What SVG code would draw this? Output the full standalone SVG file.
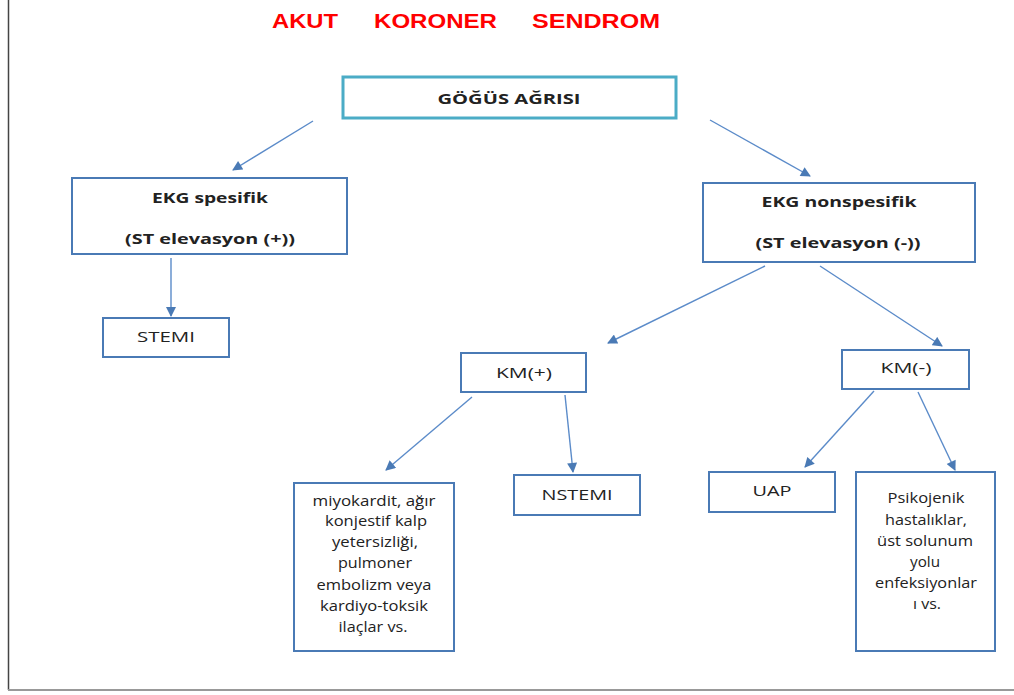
<svg xmlns="http://www.w3.org/2000/svg" width="1014" height="695" viewBox="0 0 1014 695">
<style>
.t{font-family:"Open Sans","Liberation Sans",sans-serif;fill:#222;text-anchor:middle}
.b{font-weight:bold;font-size:15px}
.r{font-size:15px}
.box{fill:#fff;stroke:#4a7ab5;stroke-width:2}
.title{font-family:"Liberation Sans",sans-serif;font-weight:bold;font-size:21px;fill:#ff0000}
.c{stroke:#5b8bc9;stroke-width:1.4;fill:none;marker-end:url(#ah)}
</style>
<defs>
<marker id="ah" viewBox="0 0 10 10" refX="9" refY="5" markerWidth="11" markerHeight="10" markerUnits="userSpaceOnUse" orient="auto">
<path d="M0,0 L10,5 L0,10 z" fill="#4a7ab5"/>
</marker>
</defs>
<rect width="1014" height="695" fill="#fff"/>
<line x1="8.5" y1="0" x2="8.5" y2="690" stroke="#444" stroke-width="1.5"/>
<line x1="8" y1="690" x2="1014" y2="690" stroke="#999" stroke-width="2"/>
<g id="title">
<text class="title" x="272" y="28" textLength="66" lengthAdjust="spacingAndGlyphs">AKUT</text>
<text class="title" x="374" y="28" textLength="123" lengthAdjust="spacingAndGlyphs">KORONER</text>
<text class="title" x="532" y="28" textLength="128" lengthAdjust="spacingAndGlyphs">SENDROM</text>
</g>
<g id="connectors">
<line class="c" x1="313" y1="121" x2="233" y2="170"/>
<line class="c" x1="710" y1="120" x2="810" y2="176"/>
<line class="c" x1="171" y1="258" x2="171" y2="316"/>
<line class="c" x1="765" y1="266" x2="608" y2="343"/>
<line class="c" x1="820" y1="266" x2="942" y2="346"/>
<line class="c" x1="472" y1="397" x2="386" y2="470"/>
<line class="c" x1="565" y1="395" x2="573" y2="472"/>
<line class="c" x1="874" y1="391" x2="805" y2="467"/>
<line class="c" x1="918" y1="392" x2="955" y2="470"/>
</g>
<g id="gogus">
<rect x="343" y="77" width="333" height="41" fill="#fff" stroke="#4bacc6" stroke-width="3"/>
<text class="t b" x="509" y="104" textLength="143" lengthAdjust="spacingAndGlyphs">GÖĞÜS AĞRISI</text>
</g>
<g id="ekg-spesifik">
<rect class="box" x="72" y="178" width="275" height="76"/>
<text class="t b" x="210" y="203" textLength="116" lengthAdjust="spacingAndGlyphs">EKG spesifik</text>
<text class="t b" x="210" y="244" textLength="170" lengthAdjust="spacingAndGlyphs">(ST elevasyon (+))</text>
</g>
<g id="stemi">
<rect class="box" x="103" y="318" width="126" height="39"/>
<text class="t r" x="166" y="342" textLength="58" lengthAdjust="spacingAndGlyphs">STEMI</text>
</g>
<g id="ekg-nonspesifik">
<rect class="box" x="703" y="183" width="272" height="79"/>
<text class="t b" x="839" y="207" textLength="155" lengthAdjust="spacingAndGlyphs">EKG nonspesifik</text>
<text class="t b" x="838" y="248" textLength="165" lengthAdjust="spacingAndGlyphs">(ST elevasyon (-))</text>
</g>
<g id="km-plus">
<rect class="box" x="461" y="353" width="125" height="39"/>
<text class="t r" x="524" y="378" textLength="56" lengthAdjust="spacingAndGlyphs">KM(+)</text>
</g>
<g id="km-minus">
<rect class="box" x="842" y="350" width="127" height="39"/>
<text class="t r" x="906" y="373" textLength="51" lengthAdjust="spacingAndGlyphs">KM(-)</text>
</g>
<g id="miyokardit">
<rect class="box" x="294" y="483" width="160" height="168"/>
<text class="t r" x="374" y="506" textLength="123" lengthAdjust="spacingAndGlyphs">miyokardit, ağır</text>
<text class="t r" x="376" y="526" textLength="102" lengthAdjust="spacingAndGlyphs">konjestif kalp</text>
<text class="t r" x="375" y="547" textLength="86" lengthAdjust="spacingAndGlyphs">yetersizliği,</text>
<text class="t r" x="375" y="568" textLength="74" lengthAdjust="spacingAndGlyphs">pulmoner</text>
<text class="t r" x="374" y="590" textLength="115" lengthAdjust="spacingAndGlyphs">embolizm veya</text>
<text class="t r" x="374" y="611" textLength="108" lengthAdjust="spacingAndGlyphs">kardiyo-toksik</text>
<text class="t r" x="373" y="632" textLength="69" lengthAdjust="spacingAndGlyphs">ilaçlar vs.</text>
</g>
<g id="nstemi">
<rect class="box" x="514" y="475" width="126" height="40"/>
<text class="t r" x="577" y="500" textLength="71" lengthAdjust="spacingAndGlyphs">NSTEMI</text>
</g>
<g id="uap">
<rect class="box" x="709" y="472" width="126" height="40"/>
<text class="t r" x="772" y="496" textLength="39" lengthAdjust="spacingAndGlyphs">UAP</text>
</g>
<g id="psikojenik">
<rect class="box" x="856" y="472" width="139" height="179"/>
<text class="t r" x="926" y="503" textLength="77" lengthAdjust="spacingAndGlyphs">Psikojenik</text>
<text class="t r" x="926" y="525" textLength="82" lengthAdjust="spacingAndGlyphs">hastalıklar,</text>
<text class="t r" x="925" y="546" textLength="96" lengthAdjust="spacingAndGlyphs">üst solunum</text>
<text class="t r" x="925" y="567" textLength="30" lengthAdjust="spacingAndGlyphs">yolu</text>
<text class="t r" x="926" y="588" textLength="102" lengthAdjust="spacingAndGlyphs">enfeksiyonlar</text>
<text class="t r" x="927" y="609" textLength="28" lengthAdjust="spacingAndGlyphs">ı vs.</text>
</g>
</svg>
